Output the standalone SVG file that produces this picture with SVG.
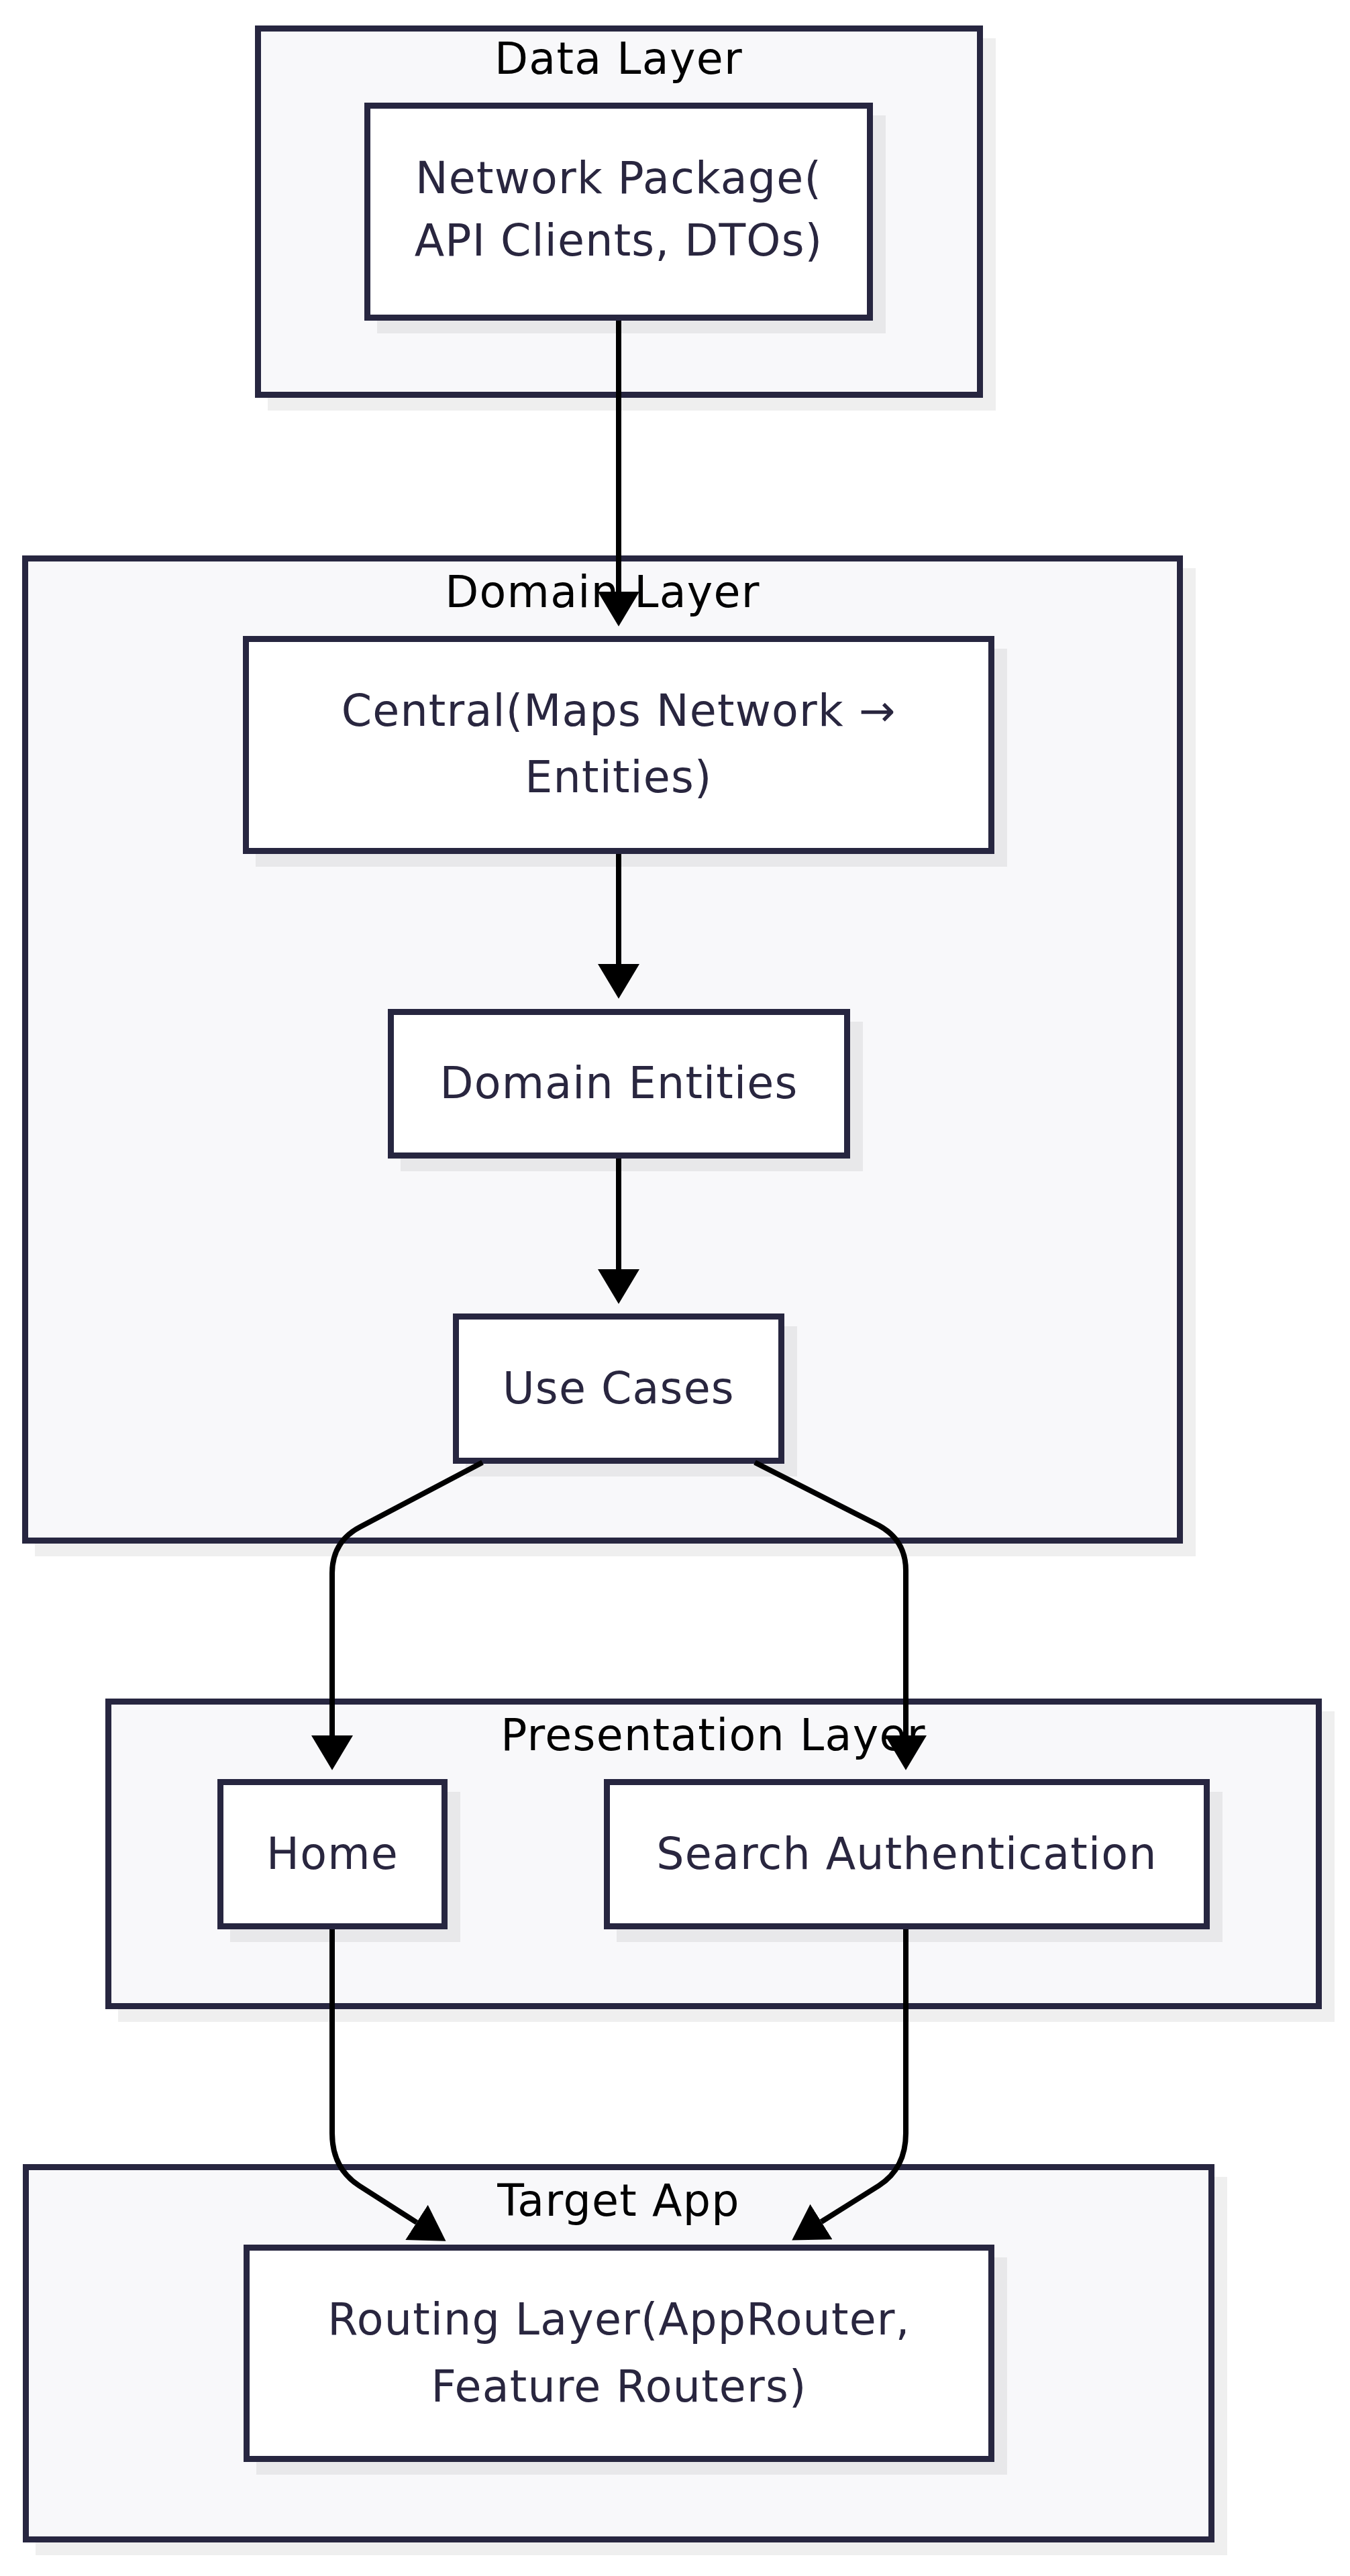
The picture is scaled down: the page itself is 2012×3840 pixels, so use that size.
<svg xmlns="http://www.w3.org/2000/svg" width="2012" height="3840" viewBox="0 0 2012 3840">
<style>
  .cluster { fill: #f8f8fa; stroke: #272640; stroke-width: 9; }
  .node { fill: #ffffff; stroke: #272640; stroke-width: 9; }
  .shadow { fill: #000000; fill-opacity: 0.062; }
  .ctitle { font-family: "DejaVu Sans", "Liberation Sans", sans-serif; font-size: 65px; letter-spacing: 1.3px; fill: #000000; text-anchor: middle; }
  .label { font-family: "DejaVu Sans", "Liberation Sans", sans-serif; font-size: 65px; letter-spacing: 1.2px; fill: #29263f; text-anchor: middle; }
  .edge { fill: none; stroke: #000000; stroke-width: 8; }
</style>
<defs>
  <marker id="arrow" markerUnits="userSpaceOnUse" markerWidth="52" markerHeight="62" viewBox="0 0 50 60" refX="0" refY="30" orient="auto">
    <path d="M0,0 L50,30 L0,60 Z" fill="#000000"/>
  </marker>
</defs>
<rect width="2012" height="3840" fill="#ffffff"/>

<g id="cluster-data">
  <rect class="shadow" x="399" y="57" width="1085" height="555"/>
  <rect class="cluster" x="384.5" y="42.5" width="1076" height="546"/>
  <text class="ctitle" x="922" y="110">Data Layer</text>
</g>
<g id="cluster-domain">
  <rect class="shadow" x="52" y="847" width="1730" height="1473"/>
  <rect class="cluster" x="37.5" y="832.5" width="1721" height="1464"/>
  <text class="ctitle" x="898" y="905">Domain Layer</text>
</g>
<g id="cluster-presentation">
  <rect class="shadow" x="176" y="2551" width="1813" height="463"/>
  <rect class="cluster" x="161.5" y="2536.5" width="1804" height="454"/>
  <text class="ctitle" x="1063" y="2609">Presentation Layer</text>
</g>
<g id="cluster-target">
  <rect class="shadow" x="53" y="3245" width="1776" height="564"/>
  <rect class="cluster" x="38.5" y="3230.5" width="1767" height="555"/>
  <text class="ctitle" x="922" y="3303">Target App</text>
</g>

<g id="node-network">
  <rect class="shadow" x="562" y="172" width="758" height="325"/>
  <rect class="node" x="547.5" y="157.5" width="749" height="316"/>
  <text class="label" x="922" y="288">Network Package(</text>
  <text class="label" x="922" y="381">API Clients, DTOs)</text>
</g>
<g id="node-central">
  <rect class="shadow" x="381" y="967" width="1120" height="325"/>
  <rect class="node" x="366.5" y="952.5" width="1111" height="316"/>
  <text class="label" x="922" y="1082">Central(Maps Network →</text>
  <text class="label" x="922" y="1181">Entities)</text>
</g>
<g id="node-entities">
  <rect class="shadow" x="597" y="1523" width="689" height="223"/>
  <rect class="node" x="582.5" y="1508.5" width="680" height="214"/>
  <text class="label" x="922.5" y="1637">Domain Entities</text>
</g>
<g id="node-usecases">
  <rect class="shadow" x="694" y="1977" width="494" height="224"/>
  <rect class="node" x="679.5" y="1962.5" width="485" height="215"/>
  <text class="label" x="922" y="2092">Use Cases</text>
</g>
<g id="node-home">
  <rect class="shadow" x="343" y="2671" width="343" height="224"/>
  <rect class="node" x="328.5" y="2656.5" width="334" height="215"/>
  <text class="label" x="495.5" y="2786">Home</text>
</g>
<g id="node-search">
  <rect class="shadow" x="919" y="2671" width="903" height="224"/>
  <rect class="node" x="904.5" y="2656.5" width="894" height="215"/>
  <text class="label" x="1351.5" y="2786">Search Authentication</text>
</g>
<g id="node-routing">
  <rect class="shadow" x="382" y="3365" width="1119" height="324"/>
  <rect class="node" x="367.5" y="3350.5" width="1110" height="315"/>
  <text class="label" x="922.5" y="3480">Routing Layer(AppRouter,</text>
  <text class="label" x="922.5" y="3580">Feature Routers)</text>
</g>

<g id="connectors">
  <path class="edge" d="M922 478 L922 882" marker-end="url(#arrow)"/>
  <path class="edge" d="M922 1273 L922 1437" marker-end="url(#arrow)"/>
  <path class="edge" d="M922 1727 L922 1892" marker-end="url(#arrow)"/>
  <path class="edge" d="M719 2180 L537 2276 Q495 2298 495 2345 L495 2587" marker-end="url(#arrow)"/>
  <path class="edge" d="M1125 2180 L1310 2274 Q1350 2296 1350 2341 L1350 2587" marker-end="url(#arrow)"/>
  <path class="edge" d="M495 2876 L495 3180 Q495 3232 535 3258 L621 3313" marker-end="url(#arrow)"/>
  <path class="edge" d="M1350 2876 L1350 3180 Q1350 3232 1310 3258 L1224 3312" marker-end="url(#arrow)"/>
</g>
</svg>
